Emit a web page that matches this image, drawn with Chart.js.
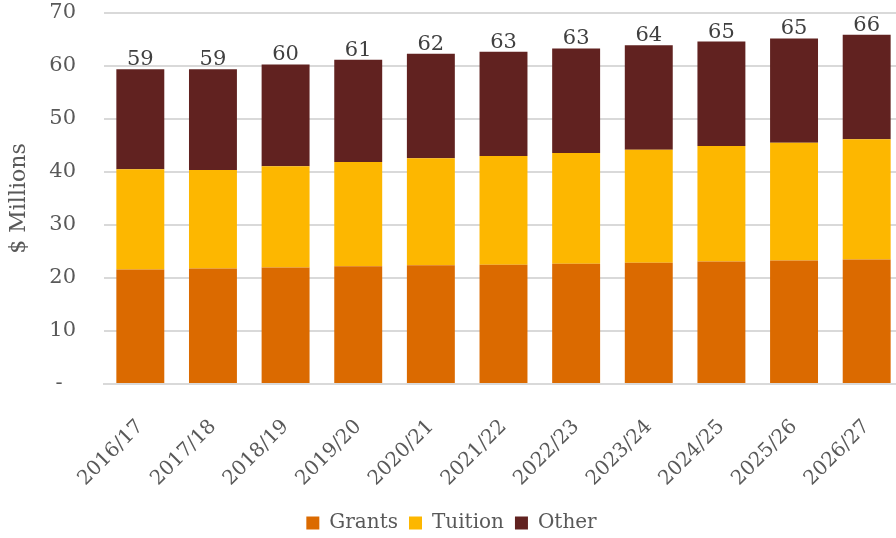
<!DOCTYPE html>
<html lang="en">
<head>
  <meta charset="UTF-8">
  <title>Revenue by Source</title>
  <script src="https://cdn.jsdelivr.net/npm/chart.js@4.4.1/dist/chart.umd.min.js"></script>
  <style>
    html, body {
      margin: 0;
      padding: 0;
      background: #ffffff;
      overflow: hidden;
    }
    #wrap {
      width: 903px;
      height: 538px;
    }
  </style>
</head>
<body>
  <div id="wrap">
    <canvas id="revenueChart" width="903" height="538"></canvas>
  </div>

  <script>
    const years = ["2016/17", "2017/18", "2018/19", "2019/20", "2020/21", "2021/22",
                   "2022/23", "2023/24", "2024/25", "2025/26", "2026/27"];

    // $ millions per source
    const grants  = [21.6, 21.8, 22.0, 22.2, 22.4, 22.5, 22.7, 22.9, 23.1, 23.3, 23.5];
    const tuition = [18.9, 18.6, 19.1, 19.7, 20.2, 20.5, 20.9, 21.3, 21.8, 22.2, 22.7];
    const other   = [18.9, 19.0, 19.2, 19.3, 19.7, 19.7, 19.7, 19.7, 19.7, 19.7, 19.7];

    const yTicks = [0, 10, 20, 30, 40, 50, 60, 70];

    const FONT = "'DejaVu Serif', 'Liberation Serif', serif";
    const GREY = "#595959";
    const CLEAR = "rgba(0,0,0,0)";

    // writes the stacked total above each column
    const totalsPlugin = {
      id: "totals",
      afterDatasetsDraw(chart) {
        const ctx = chart.ctx;
        const last = chart.getDatasetMeta(chart.data.datasets.length - 1);
        ctx.save();
        ctx.font = "21px " + FONT;
        ctx.fillStyle = "#404040";
        ctx.textAlign = "center";
        ctx.textBaseline = "bottom";
        last.data.forEach((bar, i) => {
          const total = grants[i] + tuition[i] + other[i];
          ctx.fillText(String(Math.round(total)), bar.x, bar.y + 1);
        });
        ctx.restore();
      }
    };

    const ctx = document.getElementById("revenueChart").getContext("2d");

    new Chart(ctx, {
      type: "bar",
      data: {
        labels: years,
        datasets: [
          { label: "Grants",  data: grants,  backgroundColor: "#DB6A00" },
          { label: "Tuition", data: tuition, backgroundColor: "#FDB700" },
          { label: "Other",   data: other,   backgroundColor: "#612220" }
        ]
      },
      options: {
        responsive: false,
        animation: false,
        layout: {
          // legend sits low, almost on the bottom edge
          padding: { top: 13, right: 0, bottom: -5, left: 0 }
        },
        datasets: {
          bar: {
            categoryPercentage: 1.0,
            barPercentage: 0.66,
            borderWidth: 0
          }
        },
        plugins: {
          legend: {
            position: "bottom",
            labels: {
              font: { family: FONT, size: 20 },
              color: GREY,
              boxWidth: 13,
              boxHeight: 13,
              padding: 11
            }
          },
          tooltip: { enabled: false },
          totals: {}
        },
        scales: {
          x: {
            stacked: true,
            // hidden tick marks push the rotated labels down
            grid: {
              display: true,
              drawOnChartArea: false,
              drawTicks: true,
              tickLength: 12,
              color: CLEAR
            },
            border: { display: true, color: "#d9d9d9", width: 2 },
            ticks: {
              font: { family: FONT, size: 20 },
              color: GREY,
              minRotation: 45,
              maxRotation: 45,
              padding: 19
            },
            afterFit(scale) {
              scale.height = 118;
            }
          },
          y: {
            stacked: true,
            min: 0,
            max: 70,
            afterBuildTicks(scale) {
              scale.ticks = yTicks.map(v => ({ value: v }));
            },
            grid: {
              color: "#d9d9d9",
              lineWidth: 2,
              drawTicks: true,
              tickLength: 28,
              tickColor: CLEAR
            },
            border: { display: false },
            ticks: {
              font: { family: FONT, size: 21 },
              color: GREY,
              padding: 0,
              callback: v => (v === 0 ? "-  " : String(v))
            },
            title: {
              display: true,
              text: "$ Millions",
              font: { family: FONT, size: 22 },
              color: GREY,
              padding: { top: 6, bottom: 0 }
            },
            afterFit(scale) {
              scale.width = 104;
            }
          }
        }
      },
      plugins: [totalsPlugin]
    });
  </script>
</body>
</html>
